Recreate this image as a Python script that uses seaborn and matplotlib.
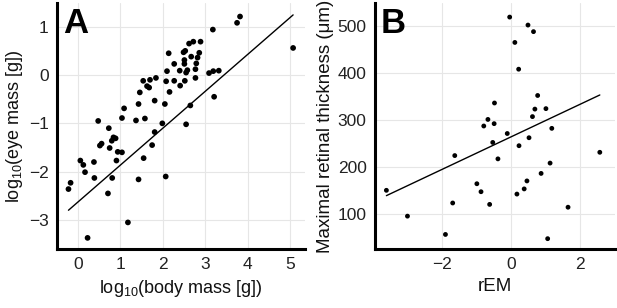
import numpy as np
import pandas as pd
import matplotlib
matplotlib.use('Agg')
import matplotlib.pyplot as plt
import seaborn as sns

# Panel A: log10 body mass vs log10 eye mass
body_mass = [2.14, 2.49, 2.53, 2.27, 2.10, 2.40, 1.54, 1.70, 1.84, 2.08,
             2.27, 1.63, 1.68, 2.41, 2.16, 1.46, 1.81, 1.43, 2.05, 1.09,
             1.04, 1.37, 1.58, 0.48, 1.99, 0.73, 1.81, 0.84, 0.89, 0.80,
             0.56, 0.52, 0.75, 1.75, 0.94, 1.04, 0.06, 0.13, 0.38, 0.91,
             1.55, 0.17, 0.39, 0.81, 1.43, 2.07, -0.17, -0.22, 0.71, 1.18,
             0.23, 3.82, 3.75, 3.18, 5.07, 2.89, 2.72, 2.62, 2.86, 2.67,
             2.82, 2.51, 2.51, 2.79, 2.77, 2.58, 2.55, 3.09, 3.19, 3.32,
             2.77, 2.52, 3.21, 2.65, 2.55]
eye_mass = [0.45, 0.47, 0.50, 0.23, 0.08, 0.09, -0.12, -0.10, -0.06, -0.13,
            -0.12, -0.23, -0.26, -0.22, -0.35, -0.36, -0.53, -0.60, -0.60, -0.69,
            -0.89, -0.94, -0.90, -0.95, -1.00, -1.10, -1.18, -1.29, -1.31, -1.36,
            -1.42, -1.46, -1.51, -1.45, -1.59, -1.60, -1.77, -1.86, -1.80, -1.77,
            -1.72, -2.01, -2.13, -2.13, -2.16, -2.10, -2.23, -2.36, -2.45, -3.05,
            -3.37, 1.21, 1.08, 0.94, 0.56, 0.69, 0.69, 0.65, 0.46, 0.38,
            0.36, 0.31, 0.23, 0.24, 0.12, 0.10, 0.05, 0.04, 0.08, 0.09,
            -0.06, -0.12, -0.45, -0.63, -1.02]
fit_a = (0.764, -2.63)  # slope, intercept

# Panel B: rEM vs maximal retinal thickness
rem = [-0.04, 0.49, 0.65, 0.11, 0.22, 0.77, -0.48, 0.69, 1.01, 0.62,
       -0.67, -0.49, -0.79, 1.18, -0.11, -0.53, 0.23, 0.52, 2.57, -1.63,
       -0.38, 1.13, 0.87, 0.46, -0.99, -3.61, -0.87, 0.38, 0.17, -1.69,
       -0.62, 1.65, -3.00, -1.90, 1.06]
thickness = [520, 503, 489, 466, 409, 353, 337, 324, 325, 308,
             302, 293, 288, 283, 272, 253, 246, 263, 232, 225,
             218, 209, 187, 171, 165, 151, 148, 154, 143, 124,
             121, 115, 96, 57, 48]
fit_b = (34.7, 264.9)  # slope, intercept

df_a = pd.DataFrame({'x': body_mass, 'y': eye_mass})
df_b = pd.DataFrame({'x': rem, 'y': thickness})

sns.set_theme(style='whitegrid')
plt.rcParams['font.family'] = ['Liberation Sans', 'DejaVu Sans']
plt.rcParams['mathtext.default'] = 'regular'
plt.rcParams['text.color'] = '#111111'
plt.rcParams['axes.labelcolor'] = '#111111'

fig = plt.figure(figsize=(6.17, 3.08), dpi=100)
ax_a = fig.add_axes([57 / 617, 1 - 249 / 308, 248 / 617, 246 / 308])
ax_b = fig.add_axes([375 / 617, 1 - 249 / 308, 240 / 617, 246 / 308])


def fit_line(df, fit):
    xs = np.array([df['x'].min(), df['x'].max()])
    return pd.DataFrame({'x': xs, 'y': fit[0] * xs + fit[1]})


def style_axes(ax):
    ax.set_facecolor('white')
    ax.grid(True, color='#e6e6e6', linewidth=0.8)
    for side in ['top', 'right']:
        ax.spines[side].set_visible(False)
    for side in ['left', 'bottom']:
        ax.spines[side].set_visible(True)
        ax.spines[side].set_color('black')
        ax.spines[side].set_linewidth(2.2)
    ax.tick_params(length=0, pad=6, labelsize=12.5, labelcolor='#222222')


sns.scatterplot(data=df_a, x='x', y='y', ax=ax_a, color='black', s=17,
                edgecolor='none', zorder=3)
sns.lineplot(data=fit_line(df_a, fit_a), x='x', y='y', ax=ax_a,
             color='black', linewidth=1.0)
ax_a.set_xlim(-0.49, 5.35)
ax_a.set_ylim(-3.6, 1.49)
ax_a.set_xticks([0, 1, 2, 3, 4, 5])
ax_a.set_yticks([-3, -2, -1, 0, 1])
ax_a.set_yticklabels(['\u22123', '\u22122', '\u22121', '0', '1'])
ax_a.set_xlabel(r'log$_{10}$(body mass [g])', fontsize=13, labelpad=4)
ax_a.set_ylabel(r'log$_{10}$(eye mass [g])', fontsize=13, labelpad=3)
style_axes(ax_a)
ax_a.text(0.025, 0.985, 'A', transform=ax_a.transAxes, fontsize=25,
          fontweight='bold', va='top', ha='left', color='black')

sns.scatterplot(data=df_b, x='x', y='y', ax=ax_b, color='black', s=12,
                edgecolor='none', zorder=3)
sns.lineplot(data=fit_line(df_b, fit_b), x='x', y='y', ax=ax_b,
             color='black', linewidth=1.0)
ax_b.set_xlim(-3.94, 3.01)
ax_b.set_ylim(26, 550)
ax_b.set_xticks([-2, 0, 2])
ax_b.set_xticklabels(['\u22122', '0', '2'])
ax_b.set_yticks([100, 200, 300, 400, 500])
ax_b.set_xlabel('rEM', fontsize=13.5, labelpad=4)
ax_b.set_ylabel('Maximal retinal thickness (\u03bcm)', fontsize=13.5, labelpad=3)
style_axes(ax_b)
ax_b.text(0.025, 0.985, 'B', transform=ax_b.transAxes, fontsize=25,
          fontweight='bold', va='top', ha='left', color='black')

plt.savefig('out.png', dpi=100)
